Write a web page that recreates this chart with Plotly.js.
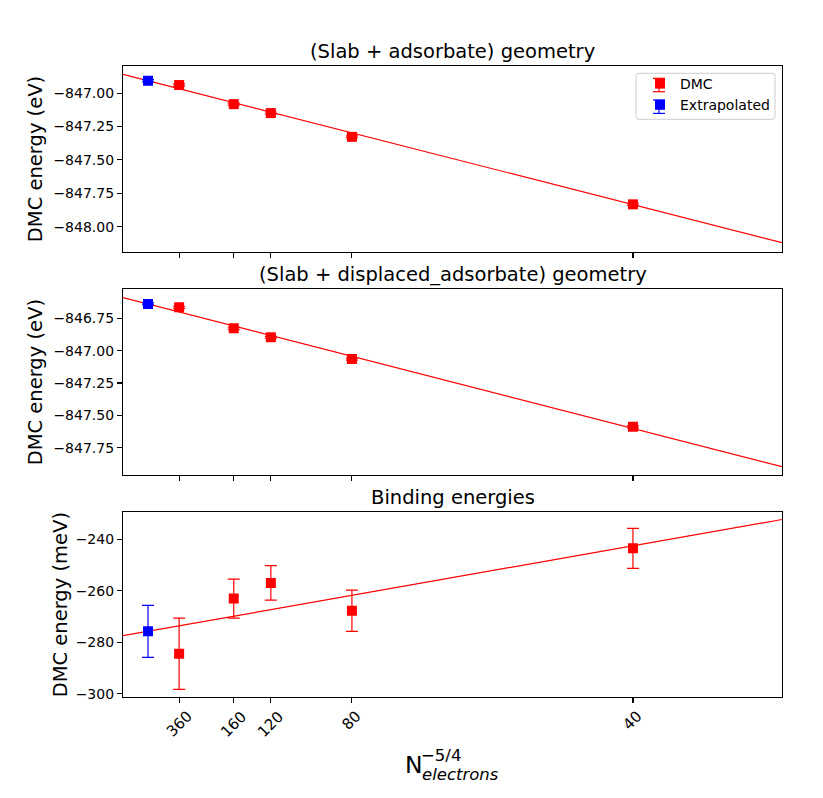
<!DOCTYPE html>
<html><head><meta charset="utf-8">
<script src="https://cdn.plot.ly/plotly-3.0.1.min.js"></script>
<style>html,body{margin:0;padding:0;background:#fff}#chart{width:823px;height:798px}</style>
</head><body><div id="chart"></div>
<script>
// ---- data ----
const nElectrons = [360, 160, 120, 80, 40];
const xTickLabels = ['360', '160', '120', '80', '40'];

const adsEnergy = [-846.940, -847.083, -847.150, -847.328, -847.833];
const adsError = [0.008, 0.008, 0.008, 0.008, 0.008];
const adsExtrap = [-846.908];
const adsExtrapErr = [0.008];
const adsSlope = -93.3;

const dispEnergy = [-846.665, -846.827, -846.897, -847.065, -847.588];
const dispError = [0.008, 0.008, 0.008, 0.008, 0.008];
const dispExtrap = [-846.639];
const dispExtrapErr = [0.008];
const dispSlope = -96.8;

const bindEnergy = [-284.4, -263.0, -256.9, -267.7, -243.5];
const bindError = [13.8, 7.6, 6.7, 8.0, 7.8];
const bindExtrap = [-275.7];
const bindExtrapErr = [10.1];
const bindSlope = 3340;

const yTicks1 = [-847.00, -847.25, -847.50, -847.75, -848.00];
const yTicks2 = [-846.75, -847.00, -847.25, -847.50, -847.75];
const yTicks3 = [-240, -260, -280, -300];

const titles = ['(Slab + adsorbate) geometry', '(Slab + displaced_adsorbate) geometry', 'Binding energies'];
// ---------------------------------------

const xVals = nElectrons.map(n => Math.pow(n, -1.25));
const xRange = [-0.000513, 0.012996];
const fmt = (v, d) => (v < 0 ? '\u2212' : '') + Math.abs(v).toFixed(d);

const FONT = 'DejaVu Sans, Liberation Sans, sans-serif';
const RED = '#ff0000', BLUE = '#0000ff';

function panel(ax, energy, err, extrap, extrapErr, slope, showLegend) {
  const xa = ax === 1 ? 'x' : 'x' + ax;
  const ya = ax === 1 ? 'y' : 'y' + ax;
  return [
    {x: xRange, y: xRange.map(x => extrap[0] + slope * x), xaxis: xa, yaxis: ya,
     mode: 'lines', line: {color: RED, width: 1.2}, showlegend: false, hoverinfo: 'skip'},
    {x: xVals, y: energy, xaxis: xa, yaxis: ya, mode: 'markers', name: 'DMC',
     marker: {symbol: 'square', size: 10, color: RED},
     error_y: {type: 'data', array: err, color: RED, thickness: 1.2, width: 6},
     showlegend: showLegend},
    {x: [0], y: extrap, xaxis: xa, yaxis: ya, mode: 'markers', name: 'Extrapolated',
     marker: {symbol: 'square', size: 10, color: BLUE},
     error_y: {type: 'data', array: extrapErr, color: BLUE, thickness: 1.2, width: 6},
     showlegend: showLegend}
  ];
}

const data = [].concat(
  panel(1, adsEnergy, adsError, adsExtrap, adsExtrapErr, adsSlope, true),
  panel(2, dispEnergy, dispError, dispExtrap, dispExtrapErr, dispSlope, false),
  panel(3, bindEnergy, bindError, bindExtrap, bindExtrapErr, bindSlope, false)
);

const axBase = {
  showline: true, mirror: true, linecolor: '#000', linewidth: 1.1,
  ticks: 'outside', ticklen: 5, tickwidth: 1.1, tickcolor: '#000',
  showgrid: false, zeroline: false,
  tickfont: {family: FONT, size: 14, color: '#000'}
};
function xAxis(anchor) {
  return Object.assign({}, axBase, {range: xRange, anchor: anchor, tickmode: 'array',
    tickvals: xVals, ticktext: xTickLabels, showticklabels: false});
}
function yAxis(domain, range, ticks, dec, title, standoff) {
  return Object.assign({}, axBase, {domain: domain, range: range, tickmode: 'array',
    tickvals: ticks, ticktext: ticks.map(v => fmt(v, dec)),
    title: {text: title, font: {family: FONT, size: 19.5, color: '#000'}, standoff: standoff}});
}

const dom1 = [0.7052, 1.0], dom2 = [0.3518, 0.6461], dom3 = [0.0, 0.2927];

const annotations = [];
[dom1, dom2, dom3].forEach((d, i) => {
  annotations.push({text: titles[i], xref: 'paper', yref: 'paper', x: 0.5, y: d[1],
    xanchor: 'center', yanchor: 'bottom', yshift: 1, showarrow: false,
    font: {family: FONT, size: 19.5, color: '#000'}});
});
xVals.forEach((x, i) => {
  annotations.push({text: xTickLabels[i], xref: 'x3', yref: 'paper', x: x, y: 0,
    xanchor: 'center', yanchor: 'top', yshift: -7.5, textangle: -45, showarrow: false,
    font: {family: FONT, size: 15, color: '#000'}});
});
annotations.push({text: 'N', xref: 'paper', yref: 'paper', x: 0.4249, y: -0.1078,
  xanchor: 'left', yanchor: 'middle', showarrow: false,
  font: {family: FONT, size: 23.5, color: '#000'}});
annotations.push({text: '\u22125/4', xref: 'paper', yref: 'paper', x: 0.4490, y: -0.0927,
  xanchor: 'left', yanchor: 'middle', showarrow: false,
  font: {family: FONT, size: 16.5, color: '#000'}});
annotations.push({text: '<i>electrons</i>', xref: 'paper', yref: 'paper', x: 0.4507, y: -0.1233,
  xanchor: 'left', yanchor: 'middle', showarrow: false,
  font: {family: FONT, size: 16.5, color: '#000'}});

// legend frame and error-bar glyphs (decoration, paper coordinates from pixels)
const W = 659, H = 631, L = 123, B = 697;
const px = p => (p - L) / W, py = p => (B - p) / H;
function roundRect(x0, y0, x1, y1, r) {
  const rx = r / W, ry = r / H;
  const a = px(x0), b = px(x1), t = py(y0), u = py(y1);
  return `M${a + rx},${t} L${b - rx},${t} Q${b},${t} ${b},${t - ry} L${b},${u + ry} Q${b},${u} ${b - rx},${u} ` +
         `L${a + rx},${u} Q${a},${u} ${a},${u + ry} L${a},${t - ry} Q${a},${t} ${a + rx},${t} Z`;
}
const shapes = [{type: 'path', xref: 'paper', yref: 'paper', path: roundRect(636, 73.3, 775, 119.3, 3),
  fillcolor: 'rgba(255,255,255,0.8)', line: {color: '#cccccc', width: 1}, layer: 'below'}];
[[85, RED], [106.7, BLUE]].forEach(([cy, col]) => {
  const cx = 659;
  shapes.push({type: 'line', xref: 'paper', yref: 'paper', x0: px(cx), x1: px(cx), y0: py(cy - 6.7), y1: py(cy + 6.7), line: {color: col, width: 1.2}, layer: 'above'});
  shapes.push({type: 'line', xref: 'paper', yref: 'paper', x0: px(cx - 6), x1: px(cx + 6), y0: py(cy - 6.7), y1: py(cy - 6.7), line: {color: col, width: 1.2}, layer: 'above'});
  shapes.push({type: 'line', xref: 'paper', yref: 'paper', x0: px(cx - 6), x1: px(cx + 6), y0: py(cy + 6.7), y1: py(cy + 6.7), line: {color: col, width: 1.2}, layer: 'above'});
});

const layout = {
  width: 823, height: 798,
  margin: {l: 123, r: 41, t: 66, b: 101},
  paper_bgcolor: '#fff', plot_bgcolor: '#fff',
  font: {family: FONT, size: 14, color: '#000'},
  xaxis: xAxis('y'), xaxis2: xAxis('y2'), xaxis3: xAxis('y3'),
  yaxis: yAxis(dom1, [-848.19, -846.7975], yTicks1, 2, 'DMC energy (eV)', 5),
  yaxis2: yAxis(dom2, [-847.961, -846.526], yTicks2, 2, 'DMC energy (eV)', 5),
  yaxis3: yAxis(dom3, [-301.2, -229.5], yTicks3, 0, 'DMC energy (meV)', 2),
  legend: {x: 0.9894, xanchor: 'right', y: 0.9968, yanchor: 'top',
    bgcolor: 'rgba(0,0,0,0)', borderwidth: 0,
    font: {family: FONT, size: 14, color: '#000'}},
  annotations: annotations, shapes: shapes, showlegend: true
};

Plotly.newPlot('chart', data, layout, {displayModeBar: false, staticPlot: true});
</script></body></html>
